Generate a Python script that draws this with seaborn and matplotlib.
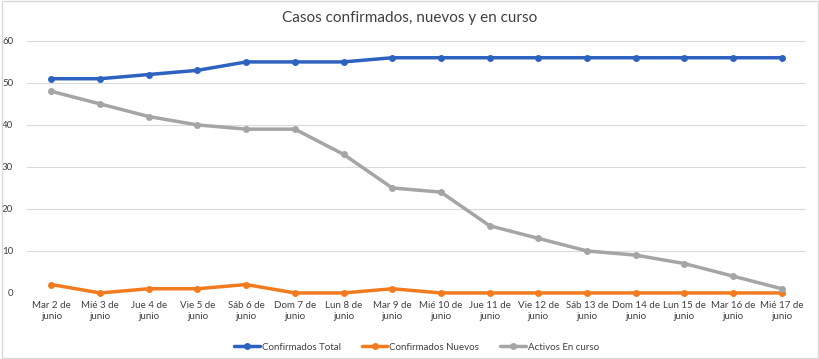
import seaborn as sns
import matplotlib.pyplot as plt
import pandas as pd

fechas = ["Mar 2 de\njunio", "Mié 3 de\njunio", "Jue 4 de\njunio", "Vie 5 de\njunio",
          "Sáb 6 de\njunio", "Dom 7 de\njunio", "Lun 8 de\njunio", "Mar 9 de\njunio",
          "Mié 10 de\njunio", "Jue 11 de\njunio", "Vie 12 de\njunio", "Sáb 13 de\njunio",
          "Dom 14 de\njunio", "Lun 15 de\njunio", "Mar 16 de\njunio", "Mié 17 de\njunio"]
confirmados_total = [51, 51, 52, 53, 55, 55, 55, 56, 56, 56, 56, 56, 56, 56, 56, 56]
confirmados_nuevos = [2, 0, 1, 1, 2, 0, 0, 1, 0, 0, 0, 0, 0, 0, 0, 0]
activos = [48, 45, 42, 40, 39, 39, 33, 25, 24, 16, 13, 10, 9, 7, 4, 1]

series = ["Confirmados Total", "Confirmados Nuevos", "Activos En curso"]
colores = ["#2e62c0", "#f37b1f", "#a5a5a5"]

df = pd.DataFrame({
    "fecha": fechas * 3,
    "valor": confirmados_total + confirmados_nuevos + activos,
    "serie": [series[0]] * 16 + [series[1]] * 16 + [series[2]] * 16,
})

sns.set_theme(style="white")
plt.rcParams["font.family"] = ["Lato", "DejaVu Sans"]

fig = plt.figure(figsize=(8.2, 3.59), dpi=100)
ax = fig.add_axes([0.033, 0.184, 0.95, 0.702])

sns.lineplot(data=df, x="fecha", y="valor", hue="serie", palette=colores,
             marker="o", markersize=5, markeredgewidth=0, linewidth=2.5,
             sort=False, ax=ax)
for ln in ax.lines:
    ln.set_clip_on(False)
    ln.set_zorder(3)

ax.set_ylim(0, 60)
ax.set_yticks(range(0, 61, 10))
ax.set_xlim(-0.5, len(fechas) - 0.5)
ax.grid(axis="y", color="#d9d9d9", linewidth=0.8)
ax.set_axisbelow(True)
for s in ["top", "right", "left", "bottom"]:
    ax.spines[s].set_visible(False)
ax.tick_params(axis="both", labelsize=7, colors="#404040", length=0)
ax.set_xlabel("")
ax.set_ylabel("")
ax.yaxis.set_tick_params(pad=10)
ax.xaxis.set_tick_params(pad=6)

fig.text(0.5, 0.95, "Casos confirmados, nuevos y en curso", ha="center",
         va="center", fontsize=11, color="#404040")

ax.legend(loc="center", bbox_to_anchor=(0.5, -0.215), ncol=3, frameon=False,
          fontsize=7, labelcolor="#404040", handlelength=2.6, handletextpad=0.2,
          columnspacing=2.2)

fig.patches.append(plt.Rectangle((0.002, 0.003), 0.996, 0.994, transform=fig.transFigure,
                                 fill=False, edgecolor="#d9d9d9", linewidth=1))

fig.savefig("out.png", dpi=100)
